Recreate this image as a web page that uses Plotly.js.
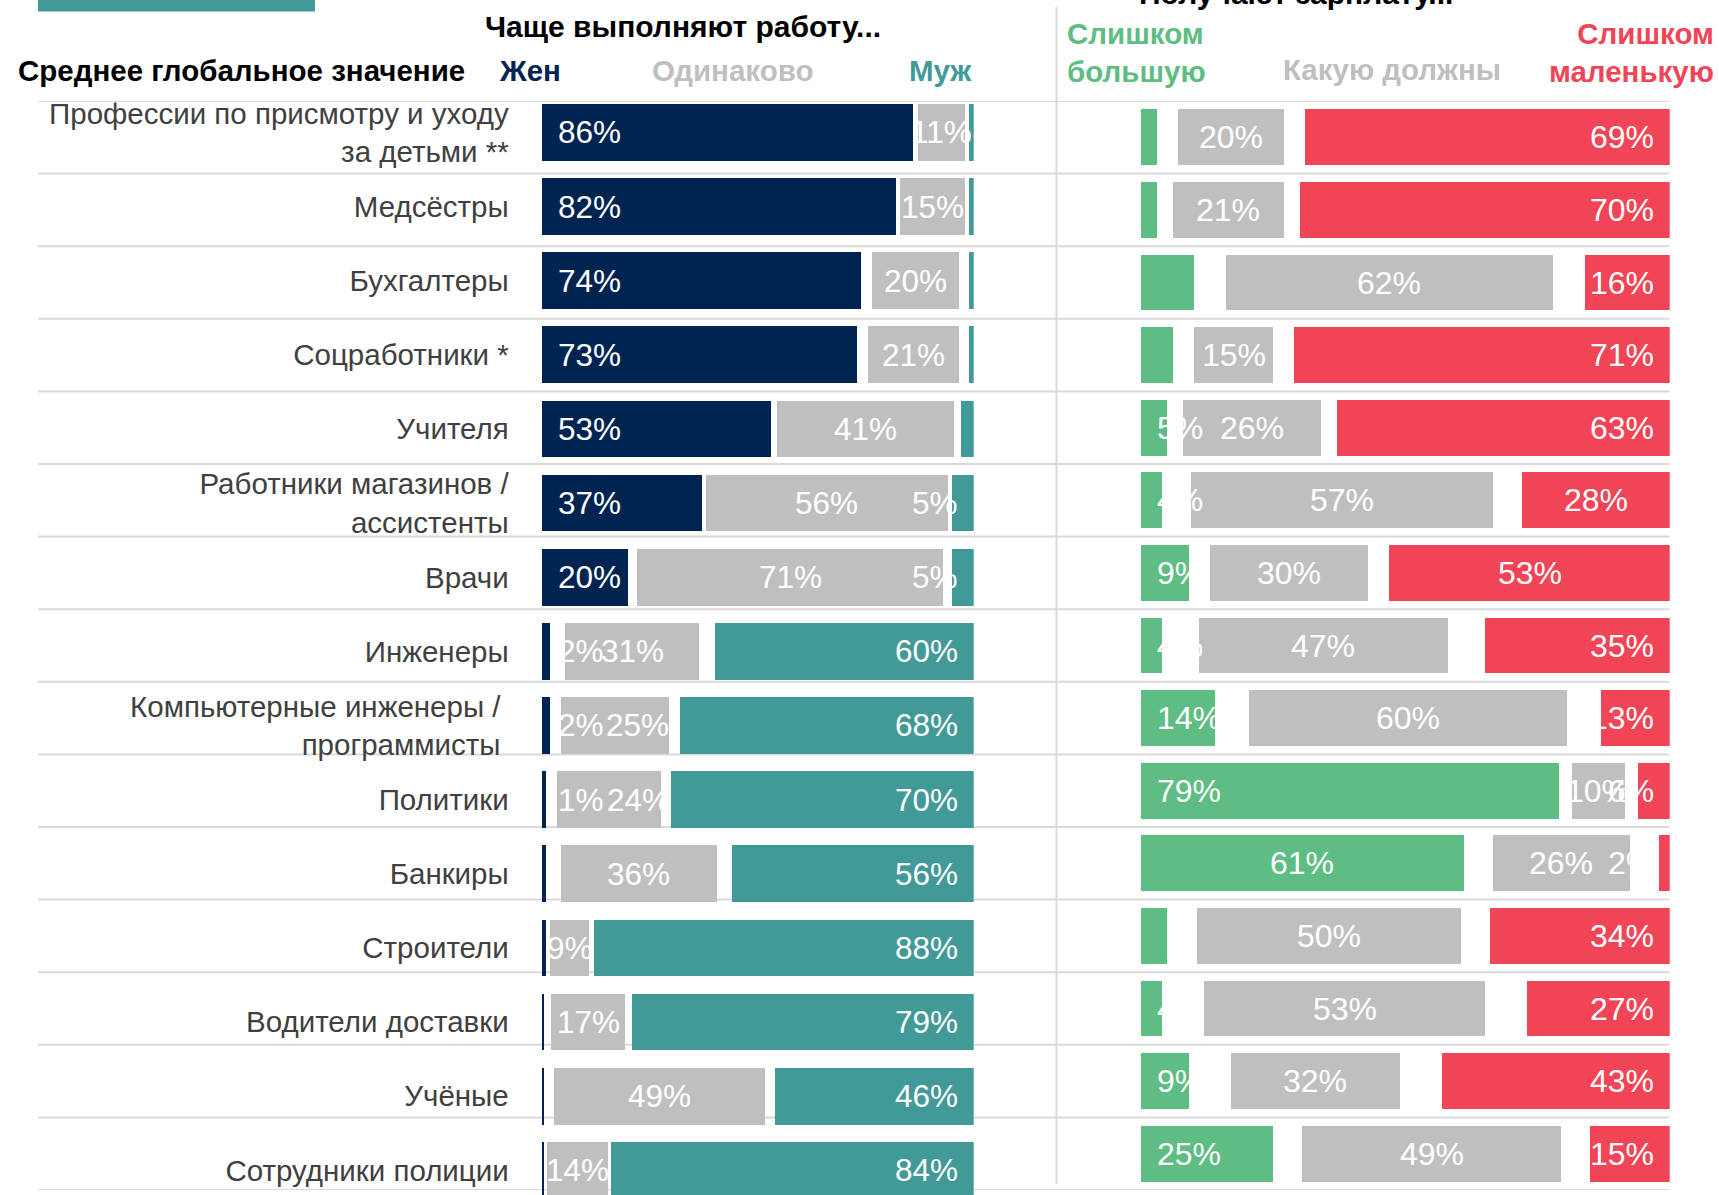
<!DOCTYPE html>
<html>
<head>
<meta charset="utf-8">
<script src="https://cdn.plot.ly/plotly-3.0.1.min.js"></script>
<style>
  html, body { margin: 0; padding: 0; background: #fff; }
  #chart { width: 1719px; height: 1195px; }
</style>
</head>
<body>
<div id="chart"></div>
<script>
// professions (rows, top to bottom)
var categories = [
  'Профессии по присмотру и уходу<br>за детьми **',
  'Медсёстры',
  'Бухгалтеры',
  'Соцработники *',
  'Учителя',
  'Работники магазинов /<br>ассистенты',
  'Врачи',
  'Инженеры',
  'Компьютерные инженеры /\u00a0<br>программисты\u00a0',
  'Политики',
  'Банкиры',
  'Строители',
  'Водители доставки',
  'Учёные',
  'Сотрудники полиции'
];

// left block: who does the job more often (%)
var women = [86, 82, 74, 73, 53, 37, 20, 2, 2, 1, 1, 1, 0.5, 0.5, 0.5];
var same  = [11, 15, 20, 21, 41, 56, 71, 31, 25, 24, 36, 9, 17, 49, 14];
var men   = [1, 1, 1, 1, 3, 5, 5, 60, 68, 70, 56, 88, 79, 46, 84];

var womenLabels = ['86%','82%','74%','73%','53%','37%','20%','2%','2%','1%','','','','',''];
var sameLabels  = ['11%','15%','20%','21%','41%','56%','71%','31%','25%','24%','36%','9%','17%','49%','14%'];
var menLabels   = ['','','','','','5%','5%','60%','68%','70%','56%','88%','79%','46%','84%'];

// right block: paid too much / fair / too little (%)
var tooMuch   = [3, 3, 10, 6, 5, 4, 9, 4, 14, 79, 61, 5, 4, 9, 25];
var fair      = [20, 21, 62, 15, 26, 57, 30, 47, 60, 10, 26, 50, 53, 32, 49];
var tooLittle = [69, 70, 16, 71, 63, 28, 53, 35, 13, 6, 2, 34, 27, 43, 15];

var tooMuchLabels   = ['','','','','5%','4%','9%','4%','14%','79%','61%','','4%','9%','25%'];
var fairLabels      = ['20%','21%','62%','15%','26%','57%','30%','47%','60%','10%','26%','50%','53%','32%','49%'];
var tooLittleLabels = ['69%','70%','16%','71%','63%','28%','53%','35%','13%','6%','2%','34%','27%','43%','15%'];

var NAVY = '#002452', TEAL = '#429A98', GREY = '#BFBFBF', GREEN = '#5EBD83', RED = '#F14456';
var LINE = '#DADADA';
var FONT = 'Liberation Sans, Arial, sans-serif';

var W = 1719, H = 1195;
function px(x) { return x / W; }
function py(y) { return 1 - y / H; }

// unanswered share is left blank, split evenly between the segments
function halfGap(a, b, c) {
  return a.map(function (v, i) { return Math.max(0, (100 - v - b[i] - c[i]) / 2); });
}
var gapL = halfGap(women, same, men);
var gapR = halfGap(tooMuch, fair, tooLittle);

function bar(vals, color, xa, ya, w) {
  return {
    type: 'bar', orientation: 'h', y: categories, x: vals,
    xaxis: xa, yaxis: ya, width: w,
    marker: {color: color, line: {width: 0}},
    hoverinfo: 'skip', showlegend: false
  };
}

var data = [
  bar(women, NAVY, 'x', 'y', 0.765),
  bar(gapL, 'rgba(0,0,0,0)', 'x', 'y', 0.765),
  bar(same, GREY, 'x', 'y', 0.765),
  bar(gapL, 'rgba(0,0,0,0)', 'x', 'y', 0.765),
  bar(men, TEAL, 'x', 'y', 0.765),
  bar(tooMuch, GREEN, 'x2', 'y2', 0.771),
  bar(gapR, 'rgba(0,0,0,0)', 'x2', 'y2', 0.771),
  bar(fair, GREY, 'x2', 'y2', 0.771),
  bar(gapR, 'rgba(0,0,0,0)', 'x2', 'y2', 0.771),
  bar(tooLittle, RED, 'x2', 'y2', 0.771)
];

var annotations = [];

function label(text, x, k, xa, ya, anchor, size, shift) {
  if (!text) return;
  annotations.push({
    text: text, x: x, y: k, xref: xa, yref: ya, showarrow: false,
    xanchor: anchor, yanchor: 'middle',
    xshift: (anchor === 'left' ? 14 : (anchor === 'right' ? -14 : 0)) + (shift || 0),
    font: {family: FONT, size: size, color: '#FFFFFF'}
  });
}

// a couple of grey labels sit right of centre in the original
var sameShift = {8: 22, 9: 30};

categories.forEach(function (c, k) {
  // left block
  var s0 = women[k] + gapL[k];
  label(womenLabels[k], 0, k, 'x', 'y', 'left', 31.5);
  label(sameLabels[k], s0 + same[k] / 2, k, 'x', 'y', 'center', 31.5, sameShift[k]);
  label(menLabels[k], 100, k, 'x', 'y', 'right', 31.5);
  // right block
  var f0 = tooMuch[k] + gapR[k];
  label(tooMuchLabels[k], k === 10 ? tooMuch[k] / 2 : 0, k, 'x2', 'y2', k === 10 ? 'center' : 'left', 32);
  label(fairLabels[k], f0 + fair[k] / 2, k, 'x2', 'y2', 'center', 32);
  var redStart = f0 + fair[k] + gapR[k];
  if (k === 5 || k === 6) {
    label(tooLittleLabels[k], (redStart + 100) / 2, k, 'x2', 'y2', 'center', 32);
  } else {
    label(tooLittleLabels[k], 100, k, 'x2', 'y2', 'right', 32);
  }
});

function head(text, x, y, color, anchor, size, align, yanchor) {
  annotations.push({
    text: text, x: px(x), y: py(y), xref: 'paper', yref: 'paper', showarrow: false,
    xanchor: anchor, yanchor: yanchor || 'middle', align: align || 'left',
    font: {family: FONT, size: size, color: color}
  });
}
head('<b>Чаще выполняют работу...</b>', 683, 26, '#000000', 'center', 30);
head('<b>Получают зарплату...</b>', 1296, 12, '#000000', 'center', 30, 'center', 'bottom');
head('<b>Среднее глобальное значение</b>', 16, 70, '#000000', 'left', 29.5);
head('<b>Жен</b>', 497, 70, NAVY, 'left', 29.5);
head('<b>Одинаково</b>', 650, 70, GREY, 'left', 29.5);
head('<b>Муж</b>', 907, 70, TEAL, 'left', 29.5);
head('<b>Слишком<br>большую</b>', 1065, 52, GREEN, 'left', 29.5, 'left');
head('<b>Какую должны</b>', 1281, 69, GREY, 'left', 29.5);
head('<b>Слишком<br>маленькую</b>', 1716, 52, RED, 'right', 29.5, 'right');

var shapes = [];
for (var k = 0; k <= categories.length; k++) {
  shapes.push({
    type: 'line', layer: 'below', xref: 'paper', yref: 'y2',
    x0: px(38), x1: px(1669.5), y0: k - 0.5, y1: k - 0.5,
    line: {color: LINE, width: 2}
  });
}
shapes.push({
  type: 'line', layer: 'below', xref: 'paper', yref: 'paper',
  x0: px(1056.5), x1: px(1056.5), y0: py(7), y1: py(1184),
  line: {color: LINE, width: 2}
});
shapes.push({
  type: 'rect', layer: 'below', xref: 'paper', yref: 'paper',
  x0: px(38), x1: px(315), y0: py(11.5), y1: 1,
  fillcolor: TEAL, line: {width: 0}
});

var layout = {
  width: W, height: H,
  margin: {l: 0, r: 0, t: 0, b: 0},
  paper_bgcolor: '#FFFFFF', plot_bgcolor: 'rgba(0,0,0,0)',
  barmode: 'stack',
  showlegend: false,
  font: {family: FONT},
  xaxis: {domain: [px(541.7), px(973.7)], range: [0, 100], visible: false, fixedrange: true},
  yaxis: {
    domain: [0, py(95.3)], range: [14.333, -0.5], type: 'category',
    showgrid: false, zeroline: false, showline: false, ticks: '',
    ticklabelstandoff: 32,
    tickfont: {family: FONT, size: 29.5, color: '#404040'}
  },
  xaxis2: {domain: [px(1141), px(1669.7)], range: [0, 100], anchor: 'y2', visible: false},
  yaxis2: {
    domain: [py(1190), py(101)], range: [14.5, -0.5], type: 'category', anchor: 'x2',
    showgrid: false, zeroline: false, showline: false, showticklabels: false, ticks: ''
  },
  annotations: annotations,
  shapes: shapes
};

Plotly.newPlot('chart', data, layout, {displayModeBar: false, staticPlot: true});
</script>
</body>
</html>
